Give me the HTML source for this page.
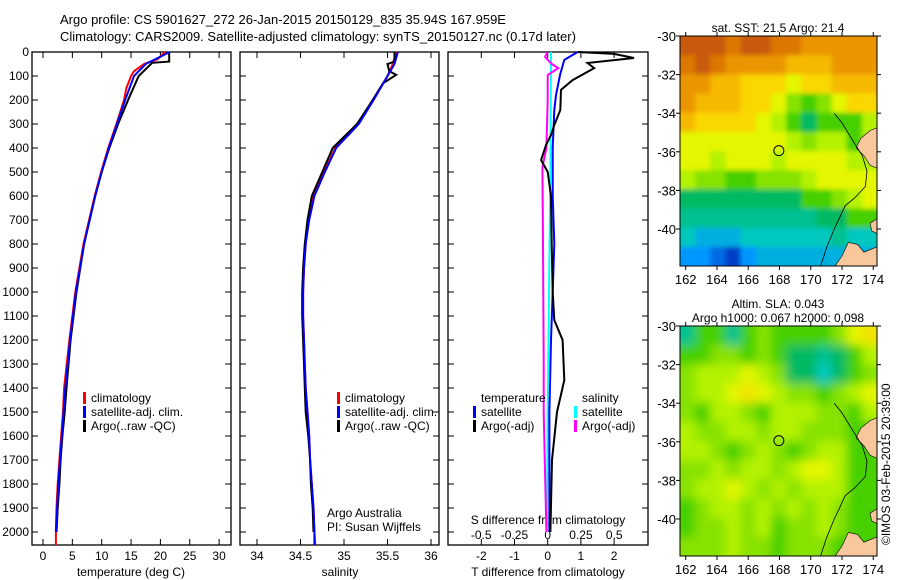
<!DOCTYPE html>
<html><head><meta charset="utf-8"><style>
html,body{margin:0;padding:0;background:#fff;}
svg{display:block;font-family:"Liberation Sans",sans-serif;font-size:12px;}
</style></head><body>
<svg id="fig" width="900" height="580" viewBox="0 0 900 580" xmlns="http://www.w3.org/2000/svg">
<defs>
<filter id="blurS" x="-5%" y="-5%" width="110%" height="110%"><feGaussianBlur stdDeviation="2.5"/></filter>
<filter id="blurL" x="-5%" y="-5%" width="110%" height="110%"><feGaussianBlur stdDeviation="5"/></filter>
<clipPath id="clip1"><rect x="680" y="36" width="197" height="230"/></clipPath>
<clipPath id="clip2"><rect x="680" y="326" width="197" height="230"/></clipPath>
</defs>
<rect width="900" height="580" fill="#fff"/>
<text x="60" y="24" font-size="13">Argo profile: CS 5901627_272 26-Jan-2015 20150129_835 35.94S 167.959E</text>
<text x="60" y="41" font-size="13">Climatology: CARS2009. Satellite-adjusted climatology: synTS_20150127.nc (0.17d later)</text>
<g id="p1"></g>
<g id="p2"></g>
<g id="p3"></g>
<g id="m1"></g>
<g id="m2"></g>
<text transform="translate(890,545) rotate(-90)" font-size="12">©IMOS 03-Feb-2015 20:39:00</text>
</svg>
<script>
// ---------- data ----------
const depthTicks=[0,100,200,300,400,500,600,700,800,900,1000,1100,1200,1300,1400,1500,1600,1700,1800,1900,2000];
const tempTicks=[0,5,10,15,20,25,30];
const salTicks=[34,34.5,35,35.5,36];
const salTickLabels=["34","34.5","35","35.5","36"];
const tdTicks=[-2,-1,0,1,2];
const sdTicks=[-0.5,-0.25,0,0.25,0.5];
const sdTickLabels=["-0.5","-0.25","0","0.25","0.5"];

const argoDepth=[0,40,45,100,200,300,400,500,600,800,1000,1200,1400,1500,1600,1700,1800,1900,2000];
const argoTemp=[21.5,21.5,18.6,16.3,14.5,12.8,11.3,10.0,8.9,7.0,5.7,4.7,4.0,3.7,3.3,3.0,2.8,2.5,2.3];
const climDepth=[0,30,50,80,100,150,200,300,400,500,600,800,1000,1200,1400,1500,1600,1700,1800,1900,2000,2054];
const climTemp=[20.8,19.5,17.2,15.5,15.0,14.2,13.8,12.5,11.1,9.9,8.8,6.9,5.5,4.5,3.6,3.4,3.1,2.8,2.5,2.3,2.2,2.2];
const satDepth=[0,50,100,200,300,400,500,600,800,1000,1200,1400,1500,1600,1700,1800,1900,2000];
const satTemp=[21.6,17.5,15.5,14.0,12.6,11.2,10.0,8.9,7.0,5.6,4.6,3.8,3.5,3.2,2.9,2.6,2.4,2.2];

const argoSalDepth=[0,40,50,80,95,130,200,300,400,500,600,700,800,900,1000,1100,1200,1300,1400,1500,1600,1700,1800,1900,2000];
const argoSal=[35.58,35.58,35.5,35.52,35.6,35.45,35.33,35.15,34.87,34.75,34.63,34.58,34.55,34.53,34.52,34.52,34.53,34.54,34.55,34.56,34.59,34.61,34.62,34.64,34.65];
const climSalDepth=[0,50,100,200,300,400,500,600,700,800,900,1000,1100,1200,1300,1400,1500,1600,1700,1800,1900,2000,2054];
const climSal=[35.6,35.56,35.5,35.33,35.16,34.9,34.77,34.65,34.59,34.56,34.54,34.53,34.53,34.54,34.55,34.56,34.58,34.6,34.61,34.63,34.65,34.66,34.67];
const satSal=[35.62,35.58,35.5,35.34,35.17,34.91,34.78,34.66,34.6,34.56,34.54,34.53,34.53,34.54,34.55,34.56,34.58,34.6,34.61,34.63,34.65,34.66,34.66];

const dTDepth=[0,8,25,46,67,117,158,242,304,346,388,450,500,600,800,1000,1117,1200,1367,1500,1700,2000];
const dTArgo=[0.9,2.0,2.6,1.2,1.4,0.75,0.4,0.38,0.2,0.1,-0.05,-0.2,0.0,0.1,0.12,0.15,0.2,0.45,0.5,0.28,0.13,0.08];
const dTSatDepth=[0,33,96,180,242,400,600,800,1000,1200,1500,2000];
const dTSat=[0.9,0.5,0.37,0.25,0.2,0.15,0.15,0.2,0.15,0.1,0.05,0.05];
const dSSatDepth=[0,500,1000,1500,2000];
const dSSat=[0.025,0.02,0.01,0.0,-0.005];
const dSArgoDepth=[0,20,50,67,96,200,400,480,800,1300,1500,2000];
const dSArgo=[0,-0.02,0.03,0.08,0.0,0.0,-0.01,-0.04,-0.035,-0.03,-0.03,-0.01];

const latTicks=[-30,-32,-34,-36,-38,-40];
const lonTicks=[162,164,166,168,170,172,174];
const sstGrid=[
[9,9,9,8.5,9,9,8.5,8.5,8,8,8,8,8],
[8.5,9,8.5,8,8,8,8,7.5,7.5,7.5,8,8,8],
[8,8,7.5,7.5,7,7,7,6.5,7,7,7.5,7.5,7.5],
[8,7.5,7.5,7.5,7,7,6.5,5.5,5,5.5,6.5,7,7],
[7.5,7,7,7,7,6.5,6,5,4.5,5,5,5,6],
[6.5,6.5,6.5,6.5,6.5,6.5,6.5,6,5.5,6,6,5,6],
[6.5,6.5,6,6.5,6.5,6.5,6,6.5,6.5,6.5,6.5,6,6],
[6,5.5,5.5,5,5,5.5,5.5,5.5,6,6.5,6.5,6.5,6.5],
[4.5,4.5,4.5,4.5,4.5,4.5,4.5,4.5,5,5,5.5,6,6.5],
[4,4,4,4,4,4,4,4,4,4.5,4.5,5,5],
[3.5,3,3,3,3.5,3.5,3.5,3.5,3.5,3.5,4,3.5,3.5],
[2.5,2.5,2,1.5,2.5,3,3,3,3,3,3,2.5,3]];
const slaGrid=[
[4,5,5,4,5,5.5,5,5,5,5,5.5,6.5,6.8],
[5,5,5.5,5.5,5,5.5,5,4.5,4.5,4,4.5,5,6],
[5.5,6,6,6,6.5,6,5.5,4.5,4.5,3.5,4.5,5,5.5],
[5.5,6,6,6.5,6.8,6.5,6,5.5,5.5,5,5.5,6,6.5],
[5.5,5,6,6,5.5,5,6,6,6,5.5,5.5,5,6],
[6,5.5,5.5,6,6,5.5,6,6,5.5,5.5,5.5,5,5],
[6,6,5.5,5,5.5,6,5.5,5,5.5,6,6,5,5],
[5.5,5.5,6,5.5,6,6,5.5,6,6.5,6.5,6,5,5],
[5.5,6,6,6.5,6,5.5,6,5.5,6,6,6,5,5],
[5,5.5,6,6,5.5,6,5.5,6,5.5,6,5.5,5,5],
[5,5.5,5.5,6,5.5,6,5,5.5,5.5,6,5.5,5,5],
[5.5,5.5,5.5,6,5.5,5.5,5,5.5,5.5,5.5,5,5,5]];

// ---------- helpers ----------
const NS="http://www.w3.org/2000/svg";
function mk(parent,tag,attrs){const e=document.createElementNS(NS,tag);for(const k in attrs)e.setAttribute(k,attrs[k]);parent.appendChild(e);return e;}
const yD=d=>52+d*0.24;
const PB=545;
function frame(g,x0,x1){
  const r=mk(g,'rect',{x:x0,y:52,width:x1-x0,height:PB-52,fill:'none',stroke:'#000','stroke-width':1.3});
  
  
}
function line(g,xs,ds,xf,color,w,name){
  const pts=xs.map((v,i)=>xf(v).toFixed(1)+','+yD(ds[i]).toFixed(1)).join(' ');
  const p=mk(g,'polyline',{points:pts,fill:'none',stroke:color,'stroke-width':w,'stroke-linejoin':'miter'});
  
  
}
function txt(g,x,y,s,anchor,name,size){
  const t=mk(g,'text',{x:x,y:y,'text-anchor':anchor||'start','font-size':size||12});
  t.textContent=s;
  
  
  return t;
}
function depthAxis(g,x0,x1,labels){
  depthTicks.forEach(d=>{
    const y=yD(d);
    mk(g,'line',{x1:x0,x2:x0+6,y1:y,y2:y,stroke:'#000'});
    mk(g,'line',{x1:x1,x2:x1-6,y1:y,y2:y,stroke:'#000'});
    if(labels) txt(g,x0-3,y+4,String(d),'end','depth-tick-label');
  });
}
function xTicks(g,vals,labs,xf,name){
  vals.forEach((v,i)=>{
    const x=xf(v);
    mk(g,'line',{x1:x,x2:x,y1:PB,y2:PB-6,stroke:'#000'});
    mk(g,'line',{x1:x,x2:x,y1:52,y2:58,stroke:'#000'});
    txt(g,x,560,labs[i],'middle',name);
  });
}
function legendEntry(g,x,y,color,label,name){
  const r=mk(g,'rect',{x:x,y:y-10,width:3,height:12,fill:color});
  
  
  txt(g,x+8,y,label,'start',name);
}

// ---------- temperature panel ----------
const p1=document.getElementById('p1');
const xT=t=>43+t*5.87;
frame(p1,32,231);
depthAxis(p1,32,231,true);
xTicks(p1,tempTicks,tempTicks.map(String),xT,'temperature-tick-label');
txt(p1,131,576,'temperature (deg C)','middle','x-axis-title-temperature');
line(p1,climTemp,climDepth,xT,'#ff0000',2,'climatology-temperature-line');
line(p1,argoTemp,argoDepth,xT,'#000000',2,'argo-temperature-line');
line(p1,satTemp,satDepth,xT,'#0000ff',2,'satellite-temperature-line');
legendEntry(p1,83,402,'#ff0000','climatology','legend-climatology');
legendEntry(p1,83,416,'#0000ff','satellite-adj. clim.','legend-satellite');
legendEntry(p1,83,430,'#000000','Argo(..raw -QC)','legend-argo');

// ---------- salinity panel ----------
const p2=document.getElementById('p2');
const xS=s=>257+(s-34)*87;
frame(p2,240,439);
depthAxis(p2,240,439,false);
xTicks(p2,salTicks,salTickLabels,xS,'salinity-tick-label');
txt(p2,340,576,'salinity','middle','x-axis-title-salinity');
line(p2,climSal,climSalDepth,xS,'#ff0000',2,'climatology-salinity-line');
line(p2,argoSal,argoSalDepth,xS,'#000000',2,'argo-salinity-line');
line(p2,satSal,climSalDepth,xS,'#0000ff',2,'satellite-salinity-line');
legendEntry(p2,337,402,'#ff0000','climatology','legend-climatology-2');
legendEntry(p2,337,416,'#0000ff','satellite-adj. clim.','legend-satellite-2');
legendEntry(p2,337,430,'#000000','Argo(..raw -QC)','legend-argo-2');
txt(p2,327,517,'Argo Australia','start','credit-argo-australia');
txt(p2,327,531,'PI: Susan Wijffels','start','credit-pi');

// ---------- difference panel ----------
const p3=document.getElementById('p3');
const xTD=v=>547.7+v*33.2;
const xSD=v=>547.7+v*133;
frame(p3,448,648);
depthAxis(p3,448,648,false);
tdTicks.forEach(v=>{const x=xTD(v);mk(p3,'line',{x1:x,x2:x,y1:PB,y2:PB-6,stroke:'#000'});mk(p3,'line',{x1:x,x2:x,y1:52,y2:58,stroke:'#000'});txt(p3,x,560,String(v),'middle','t-diff-tick-label');});
sdTicks.forEach((v,i)=>txt(p3,xSD(v),539,sdTickLabels[i],'middle','s-diff-tick-label'));
txt(p3,548,524,'S difference from climatology','middle','s-diff-axis-title');
txt(p3,548,576,'T difference from climatology','middle','t-diff-axis-title');
line(p3,dSSat,dSSatDepth,xSD,'#00ffff',2,'satellite-salinity-diff-line');
line(p3,dSArgo,dSArgoDepth,xSD,'#ff00ff',2,'argo-salinity-diff-line');
line(p3,dTSat,dTSatDepth,xTD,'#0000ff',2,'satellite-temperature-diff-line');
line(p3,dTArgo,dTDepth,xTD,'#000000',2,'argo-temperature-diff-line');
txt(p3,481,402,'temperature','start','legend-title-temperature');
legendEntry(p3,473,416,'#0000ff','satellite','legend-t-satellite');
legendEntry(p3,473,430,'#000000','Argo(-adj)','legend-t-argo');
txt(p3,582,402,'salinity','start','legend-title-salinity');
legendEntry(p3,574,416,'#00ffff','satellite','legend-s-satellite');
legendEntry(p3,574,430,'#ff00ff','Argo(-adj)','legend-s-argo');

// ---------- maps ----------
const stops=[[1.5,[0,64,200]],[2.5,[0,150,255]],[3.5,[0,200,190]],[4.5,[0,185,100]],[5,[70,208,0]],[5.5,[135,226,0]],[6,[180,242,0]],[6.5,[228,246,0]],[7,[250,215,0]],[7.5,[245,185,0]],[8,[235,150,0]],[8.5,[220,120,0]],[9,[200,90,10]]];
function cmap(v){
  if(v<=stops[0][0])return 'rgb('+stops[0][1]+')';
  for(let i=1;i<stops.length;i++){if(v<=stops[i][0]){const a=stops[i-1],b=stops[i],f=(v-a[0])/(b[0]-a[0]);return 'rgb('+a[1].map((c,j)=>Math.round(c+(b[1][j]-c)*f)).join(',')+')';}}
  return 'rgb('+stops[stops.length-1][1]+')';
}
function map(gid,top,grid,titles,blur,clip){
  const g=document.getElementById(gid);
  const L=680,R=877,B=top+230;
  const lonX=lo=>685.7+(lo-162)*15.63;
  const latY=la=>top+(-30-la)*19.3;
  const nr=grid.length,nc=grid[0].length,cw=(R-L)/nc,ch=(B-top)/nr;
  const cg=mk(g,'g',{'clip-path':'url(#'+clip+')'});
  const hg=mk(cg,'g',{filter:'url(#'+blur+')'});
  grid.forEach((row,i)=>row.forEach((v,j)=>{
    const c=mk(hg,'rect',{x:(L+j*cw-(j==0?8:0)).toFixed(2),y:(top+i*ch-(i==0?8:0)).toFixed(2),width:(cw+0.5+(j==0||j==nc-1?8:0)).toFixed(2),height:(ch+0.5+(i==0||i==nr-1?8:0)).toFixed(2),fill:cmap(v)});
    
    
  }));
  const P=pts=>pts.map(p=>lonX(p[0]).toFixed(1)+','+latY(p[1]).toFixed(1)).join(' ');
  const land1=mk(cg,'polygon',{points:P([[174.4,-34.7],[173.8,-34.9],[173.2,-35.3],[172.9,-35.8],[173.4,-36.2],[173.8,-36.7],[174.4,-36.9]]),fill:'#f8c89c',stroke:'#000','stroke-width':0.6});
  
  const land2=mk(cg,'polygon',{points:P([[174.4,-39.4],[173.8,-39.7],[173.9,-40.1],[174.4,-40.3]]),fill:'#f8c89c',stroke:'#000','stroke-width':0.6});
  
  const land3=mk(cg,'polygon',{points:P([[171.4,-42.1],[172.0,-41.4],[172.4,-40.7],[173.0,-40.8],[173.4,-41.2],[174.0,-41.0],[174.4,-40.9],[174.4,-42.1]]),fill:'#f8c89c',stroke:'#000','stroke-width':0.6});
  
  const coast=mk(cg,'polyline',{points:P([[171.5,-34.0],[172.0,-34.5],[172.6,-35.3],[173.3,-36.2],[173.6,-37.0],[173.5,-37.8],[172.8,-38.4],[172.2,-38.8],[171.8,-39.5],[171.5,-40.0],[171.0,-41.0],[170.6,-42.0]]),fill:'none',stroke:'#000','stroke-width':0.8});
  
  const circ=mk(g,'circle',{cx:lonX(167.96),cy:latY(-35.94),r:5,fill:'none',stroke:'#000','stroke-width':1});
  
  const fr=mk(g,'rect',{x:L,y:top,width:R-L,height:B-top,fill:'none',stroke:'#000','stroke-width':1});
  
  latTicks.forEach(la=>{const y=latY(la);mk(g,'line',{x1:L-4,x2:L,y1:y,y2:y,stroke:'#000'});mk(g,'line',{x1:R,x2:R+4,y1:y,y2:y,stroke:'#000'});txt(g,L-4,y+5,String(la),'end','latitude-tick-label',13);});
  lonTicks.forEach(lo=>{const x=lonX(lo);mk(g,'line',{x1:x,x2:x,y1:B,y2:B+4,stroke:'#000'});mk(g,'line',{x1:x,x2:x,y1:top-4,y2:top,stroke:'#000'});txt(g,x,B+18,String(lo),'middle','longitude-tick-label',13);});
  titles.forEach((t,i)=>txt(g,778,top-14*(titles.length-i)+10,t,'middle','map-title'));
}
map('m1',36,sstGrid,['sat. SST: 21.5 Argo: 21.4'],'blurS','clip1');
map('m2',326,slaGrid,['Altim. SLA: 0.043','Argo h1000: 0.067 h2000: 0.098'],'blurL','clip2');
</script>
</body></html>
